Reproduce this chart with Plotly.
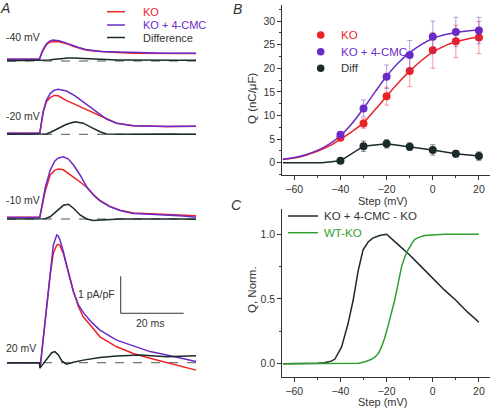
import plotly.graph_objects as go

W, H = 491, 408
FONT = "Arial, 'Liberation Sans', sans-serif"
RED = "#ec2227"
PURPLE = "#6a2bc8"
DARK = "#1b2a2a"
GREEN = "#2f9e2f"
GRAY = "#333333"

# ---------------- Panel A: charge-movement current traces (pA/pF vs ms) ----------------
# baselines (pA/pF offsets used only for stacking the four voltage steps)
A_offsets = {"-40 mV": 9.378, "-20 mV": 7.397, "-10 mV": 5.108, "20 mV": 1.224}

# -40 mV
t40 = [0, 10.3, 11, 11.5, 12.5, 13.5, 14.5, 15.5, 16.5, 18, 19.5, 21, 23, 25, 27.5, 30, 32.5, 35, 40, 45, 50, 55, 60]
ko40 = [0.05, 0.05, 0.21, 0.30, 0.44, 0.51, 0.53, 0.53, 0.52, 0.49, 0.45, 0.40, 0.35, 0.30, 0.27, 0.25, 0.24, 0.23, 0.21, 0.21, 0.20, 0.20, 0.20]
cmc40 = [0.05, 0.05, 0.22, 0.32, 0.46, 0.54, 0.57, 0.57, 0.55, 0.51, 0.46, 0.41, 0.36, 0.31, 0.28, 0.26, 0.25, 0.24, 0.22, 0.22, 0.21, 0.21, 0.21]
dif40 = [0.01, 0.01, 0.01, 0.02, 0.02, 0.03, 0.04, 0.05, 0.06, 0.07, 0.08, 0.08, 0.07, 0.06, 0.05, 0.04, 0.04, 0.03, 0.03, 0.02, 0.02, 0.02, 0.02]

# -20 mV
t20n = [0, 10.4, 11.5, 12.5, 13.7, 15, 16.3, 18.9, 21.6, 24.2, 26.9, 29.5, 31.6, 34.8, 40.1, 50.7, 60]
ko20n = [0.03, 0.03, 0.60, 0.88, 0.99, 1.05, 1.04, 0.91, 0.81, 0.71, 0.59, 0.50, 0.41, 0.30, 0.23, 0.21, 0.22]
cmc20n = [0.03, 0.03, 0.62, 0.92, 1.10, 1.19, 1.22, 1.17, 1.04, 0.88, 0.70, 0.54, 0.41, 0.30, 0.23, 0.21, 0.22]
dif20n = [0, 0, 0, 0.01, 0.05, 0.10, 0.16, 0.27, 0.34, 0.30, 0.18, 0.07, 0.01, 0.0, 0.0, 0.01, 0.0]

# -10 mV
t10n = [0, 10.4, 12.1, 13.7, 15.2, 16.3, 17.9, 19.5, 21.1, 23.2, 25.3, 27.4, 29.5, 32.7, 35.9, 40.1, 45.4, 50.7, 56.0, 60]
ko10n = [0.05, 0.05, 0.74, 1.19, 1.32, 1.35, 1.33, 1.24, 1.13, 1.00, 0.86, 0.66, 0.50, 0.34, 0.24, 0.16, 0.14, 0.12, 0.10, 0.09]
cmc10n = [0.04, 0.04, 0.83, 1.32, 1.57, 1.65, 1.68, 1.62, 1.46, 1.19, 0.87, 0.65, 0.49, 0.33, 0.23, 0.15, 0.13, 0.11, 0.08, 0.05]
dif10n = [0, 0, 0.01, 0.06, 0.17, 0.26, 0.37, 0.40, 0.29, 0.11, 0.0, -0.04, -0.03, -0.01, 0.0, 0.0, -0.01, 0.0, 0.0, -0.01]

# +20 mV
t20p = [0, 10.3, 10.5, 11.5, 12.6, 13.7, 14.7, 15.8, 16.3, 16.8, 17.4, 17.9, 18.9, 20.0, 21.1, 22.7, 24.2, 26.9, 29.5, 34.8, 40.1, 45.4, 50.7, 56.0, 60]
ko20p = [0.0, 0.0, -0.15, 0.66, 1.51, 2.37, 2.96, 3.18, 3.20, 3.17, 3.05, 2.95, 2.64, 2.28, 1.92, 1.51, 1.24, 0.97, 0.70, 0.43, 0.25, 0.12, 0.01, -0.11, -0.20]
cmc20p = [0.0, 0.0, -0.15, 0.66, 1.56, 2.55, 3.18, 3.45, 3.42, 3.32, 3.16, 3.00, 2.64, 2.28, 1.92, 1.56, 1.36, 1.09, 0.88, 0.61, 0.46, 0.30, 0.21, 0.10, 0.03]
t20pd = [0, 10.3, 10.5, 11.5, 13.1, 14.2, 15.2, 16.3, 17.4, 18.9, 21.1, 24.2, 29.5, 34.8, 42.2, 50.7, 60]
dif20p = [0.0, 0.0, -0.14, -0.02, 0.16, 0.27, 0.30, 0.21, 0.05, -0.04, 0.01, 0.07, 0.14, 0.18, 0.21, 0.16, 0.19]

A_traces = [
    ("-40 mV", t40, ko40, t40, cmc40, t40, dif40),
    ("-20 mV", t20n, ko20n, t20n, cmc20n, t20n, dif20n),
    ("-10 mV", t10n, ko10n, t10n, cmc10n, t10n, dif10n),
    ("20 mV", t20p, ko20p, t20p, cmc20p, t20pd, dif20p),
]

# ---------------- Panel B: charge vs voltage ----------------
B_steps = [-40, -30, -20, -10, 0, 10, 20]
B_ko = [5.3, 8.3, 14.1, 19.4, 23.8, 25.7, 26.5]
B_ko_err = [0.5, 1.0, 1.9, 3.3, 3.8, 3.4, 3.4]
B_cmc = [5.9, 11.5, 18.2, 22.8, 26.7, 27.7, 28.0]
B_cmc_err = [0.6, 1.8, 2.5, 3.1, 3.3, 3.1, 2.8]
B_diff = [0.4, 3.5, 4.0, 3.4, 2.7, 1.9, 1.4]
B_diff_err = [0.3, 1.1, 0.9, 0.8, 1.1, 0.7, 0.9]

B_fit_v = [-65, -60, -55, -50, -45, -40, -35, -30, -25, -20, -15, -10, -5, 0, 5, 10, 15, 20]
B_fit_ko = [0.7, 1.0, 1.6, 2.4, 3.5, 5.0, 6.6, 8.5, 11.2, 14.1, 16.9, 19.4, 21.6, 23.4, 24.7, 25.6, 26.2, 26.6]
B_fit_cmc = [0.75, 1.1, 1.7, 2.6, 3.9, 5.7, 8.3, 11.5, 15.0, 18.3, 21.1, 23.3, 25.0, 26.3, 27.1, 27.6, 27.9, 28.1]
B_diff_line_v = [-65, -48, -40, -30, -20, -10, 0, 10, 20]
B_diff_line = [0.0, 0.0, 0.4, 3.5, 4.0, 3.4, 2.7, 1.9, 1.4]

# ---------------- Panel C: normalized difference curves ----------------
C_black_v = [-65, -55, -50, -47, -44, -42.4, -39.5, -36.7, -34.5, -32.3, -30.2, -28, -26, -23, -20, -15, -10, -5, 0, 5, 10, 15, 20]
C_black = [0, 0, 0.003, 0.008, 0.02, 0.036, 0.13, 0.31, 0.49, 0.72, 0.88, 0.94, 0.97, 0.99, 1.0, 0.92, 0.84, 0.75, 0.66, 0.57, 0.49, 0.40, 0.32]
C_green_v = [-65, -40, -32, -29.4, -27, -25.1, -23.5, -22.2, -20.8, -19.4, -18, -16.5, -15, -13.5, -12, -10.7, -9, -7.8, -5.5, -3.5, 0, 5, 20]
C_green = [0, 0, 0.003, 0.015, 0.03, 0.05, 0.08, 0.13, 0.20, 0.29, 0.38, 0.49, 0.62, 0.75, 0.83, 0.88, 0.93, 0.96, 0.98, 0.99, 0.995, 1.0, 1.0]


def px(x):
    return x / W


def py(y):
    return 1 - y / H


fig = go.Figure()

# Panel A traces
for name, tk, yk, tc, yc, td, yd in A_traces:
    off = A_offsets[name]
    fig.add_trace(go.Scatter(x=tk, y=[v + off for v in yk], mode="lines",
                             line=dict(color=RED, width=1.5), xaxis="x", yaxis="y", showlegend=False))
    fig.add_trace(go.Scatter(x=tc, y=[v + off for v in yc], mode="lines",
                             line=dict(color=PURPLE, width=1.5), xaxis="x", yaxis="y", showlegend=False))
    fig.add_trace(go.Scatter(x=td, y=[v + off for v in yd], mode="lines",
                             line=dict(color=DARK, width=1.5), xaxis="x", yaxis="y", showlegend=False))

shapes = []
annotations = []
for name, off in A_offsets.items():
    shapes.append(dict(type="line", xref="x", yref="y", x0=0, x1=60, y0=off, y1=off,
                       line=dict(color="#555555", width=1, dash="dash"), layer="below"))

# scale bar (1 pA/pF, 20 ms)
sb_t, sb_y = 36.1, 2.56
shapes.append(dict(type="line", xref="x", yref="y", x0=sb_t, x1=sb_t, y0=sb_y, y1=sb_y + 1,
                   line=dict(color=GRAY, width=1)))
shapes.append(dict(type="line", xref="x", yref="y", x0=sb_t, x1=sb_t + 20, y0=sb_y, y1=sb_y,
                   line=dict(color=GRAY, width=1)))

# Panel B
fig.add_trace(go.Scatter(x=B_fit_v, y=B_fit_ko, mode="lines", line=dict(color=RED, width=1.5, shape="spline"),
                         xaxis="x2", yaxis="y2", showlegend=False))
fig.add_trace(go.Scatter(x=B_fit_v, y=B_fit_cmc, mode="lines", line=dict(color=PURPLE, width=1.5, shape="spline"),
                         xaxis="x2", yaxis="y2", showlegend=False))
fig.add_trace(go.Scatter(x=B_diff_line_v, y=B_diff_line, mode="lines", line=dict(color=DARK, width=1.5),
                         xaxis="x2", yaxis="y2", showlegend=False))
fig.add_trace(go.Scatter(x=B_steps, y=B_ko, mode="markers", marker=dict(color=RED, size=8),
                         error_y=dict(type="data", array=B_ko_err, color="rgba(236,34,39,0.45)", thickness=1, width=2.5),
                         xaxis="x2", yaxis="y2", showlegend=False))
fig.add_trace(go.Scatter(x=B_steps, y=B_cmc, mode="markers", marker=dict(color=PURPLE, size=8),
                         error_y=dict(type="data", array=B_cmc_err, color="rgba(106,43,200,0.45)", thickness=1, width=2.5),
                         xaxis="x2", yaxis="y2", showlegend=False))
fig.add_trace(go.Scatter(x=B_steps, y=B_diff, mode="markers", marker=dict(color=DARK, size=8),
                         error_y=dict(type="data", array=B_diff_err, color="rgba(27,42,42,0.55)", thickness=1, width=2.5),
                         xaxis="x2", yaxis="y2", showlegend=False))

# Panel C
fig.add_trace(go.Scatter(x=C_black_v, y=C_black, mode="lines", line=dict(color=DARK, width=1.5),
                         xaxis="x3", yaxis="y3", showlegend=False))
fig.add_trace(go.Scatter(x=C_green_v, y=C_green, mode="lines", line=dict(color=GREEN, width=1.5),
                         xaxis="x3", yaxis="y3", showlegend=False))


def txt(s, x, y, size=11, color=GRAY, xanchor="left", angle=0):
    annotations.append(dict(text=s, x=px(x), y=py(y), xref="paper", yref="paper", showarrow=False,
                            xanchor=xanchor, yanchor="middle", textangle=angle,
                            font=dict(family=FONT, size=size, color=color)))


# Panel A labels
txt("-40 mV", 4, 37, 10.5)
txt("-20 mV", 4, 116, 10.5)
txt("-10 mV", 4, 200, 10.5)
txt("20 mV", 4, 347.5, 10.5)
txt("1 pA/pF", 117, 294, 10.5, xanchor="right")
txt("20 ms", 150, 323, 10.5, xanchor="center")

# Panel A legend
for yy, col, lab, tcol in [(11.7, RED, "KO", RED), (25, PURPLE, "KO + 4-CMC", PURPLE), (37.5, DARK, "Difference", GRAY)]:
    shapes.append(dict(type="line", xref="paper", yref="paper", x0=px(107), x1=px(125), y0=py(yy), y1=py(yy),
                       line=dict(color=col, width=1.5)))
    txt(lab, 141, yy, 11, tcol)

# Panel B legend
for yy, col, lab in [(35, RED, "KO"), (51.7, PURPLE, "KO + 4-CMC"), (68.3, DARK, "Diff")]:
    shapes.append(dict(type="circle", xref="paper", yref="paper", xsizemode="pixel", ysizemode="pixel",
                       xanchor=px(320.7), yanchor=py(yy), x0=-3.8, x1=3.8, y0=-3.8, y1=3.8,
                       fillcolor=col, line=dict(color=col, width=0)))
    txt(lab, 339, yy, 11.5, col if col != DARK else GRAY)

# Panel C legend
for yy, col, lab in [(216, DARK, "KO + 4-CMC - KO"), (232.7, GREEN, "WT-KO")]:
    shapes.append(dict(type="line", xref="paper", yref="paper", x0=px(288), x1=px(318), y0=py(yy), y1=py(yy),
                       line=dict(color=col, width=1.5)))
    txt(lab, 321.5, yy, 11.5, col if col != DARK else GRAY)

# axis titles
txt("Q (nC/μF)", 252, 98, 11.5, xanchor="center", angle=-90)
txt("Step (mV)", 383, 200.5, 11, xanchor="center")
txt("Q, Norm.", 252, 290, 11.5, xanchor="center", angle=-90)
txt("Step (mV)", 383, 402, 11, xanchor="center")

# panel letters
for s, x, y in [("A", 5, 8), ("B", 237, 9), ("C", 236, 205)]:
    annotations.append(dict(text="<i>%s</i>" % s, x=px(x), y=py(y), xref="paper", yref="paper", showarrow=False,
                            xanchor="center", yanchor="middle", font=dict(family=FONT, size=14, color=GRAY)))

axis_common = dict(showline=True, linecolor=GRAY, linewidth=1, ticks="outside", ticklen=4, tickcolor=GRAY,
                   showgrid=False, zeroline=False, tickfont=dict(family=FONT, size=10.5, color=GRAY))

fig.update_layout(
    width=W, height=H, margin=dict(l=0, r=0, t=0, b=0),
    paper_bgcolor="white", plot_bgcolor="rgba(0,0,0,0)",
    xaxis=dict(domain=[0, px(245)], range=[-7 / 3.15, 238 / 3.15], visible=False, fixedrange=True),
    yaxis=dict(domain=[0, 1], range=[0, H / 37.0], visible=False, fixedrange=True),
    xaxis2=dict(domain=[px(282.3), px(490)], range=[-65.2, 24.8], anchor="y2", tickvals=[-60, -40, -20, 0, 20],
                minor=dict(ticks="outside", ticklen=2, dtick=10, tickcolor=GRAY, showgrid=False), **axis_common),
    yaxis2=dict(domain=[py(175), py(5)], range=[-2.6, 33.4], anchor="x2", tickvals=[0, 5, 10, 15, 20, 25, 30],
                minor=dict(ticks="outside", ticklen=2, dtick=2.5, tickcolor=GRAY, showgrid=False), **axis_common),
    xaxis3=dict(domain=[px(282.3), px(490)], range=[-65.2, 24.8], anchor="y3", tickvals=[-60, -40, -20, 0, 20],
                minor=dict(ticks="outside", ticklen=2, dtick=10, tickcolor=GRAY, showgrid=False), **axis_common),
    yaxis3=dict(domain=[py(377.3), py(209)], range=[-0.105, 1.195], anchor="x3", tickvals=[0, 0.5, 1.0],
                ticktext=["0.0", "0.5", "1.0"],
                minor=dict(ticks="outside", ticklen=2, dtick=0.25, tickcolor=GRAY, showgrid=False), **axis_common),
    shapes=shapes,
    annotations=annotations,
)

fig.write_html("out.html", config={"displayModeBar": False},
               post_script="document.body.style.margin='0px';document.body.style.overflow='hidden';")
